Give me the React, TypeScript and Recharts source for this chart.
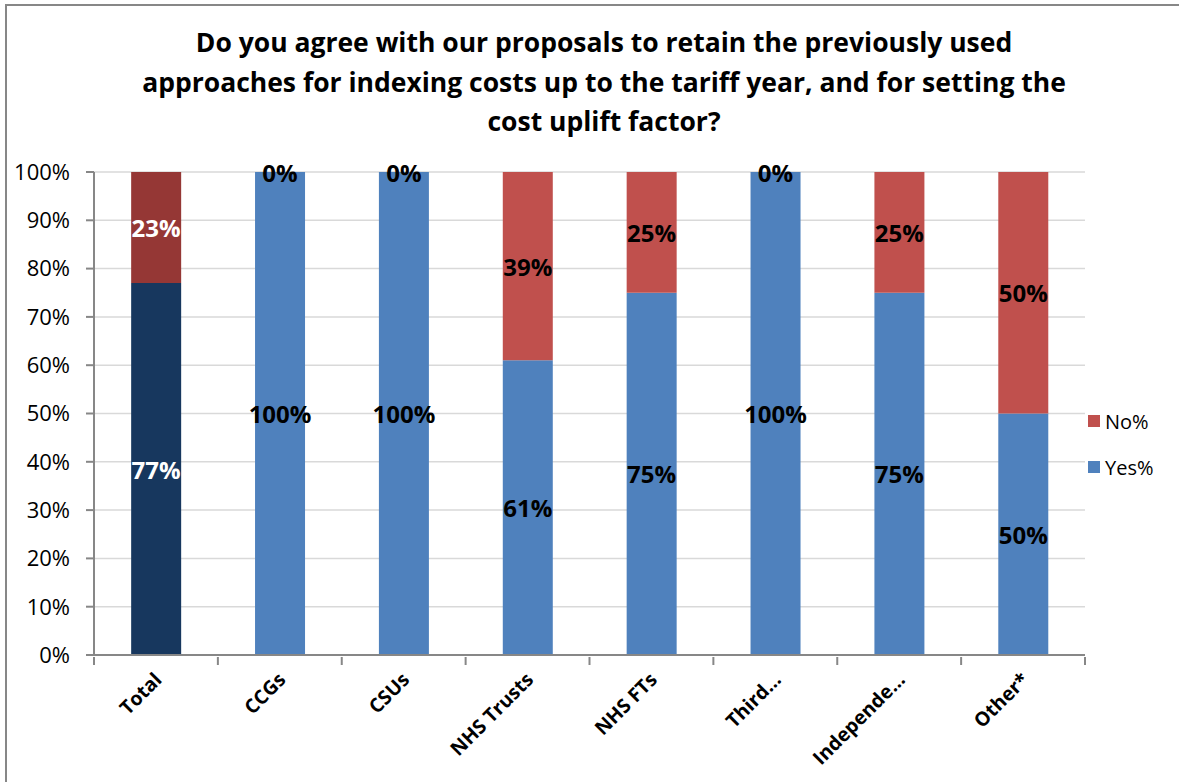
import React from "react";
import { BarChart, Bar, XAxis, YAxis, CartesianGrid, Cell, LabelList } from "recharts";

const categories = ["Total", "CCGs", "CSUs", "NHS Trusts", "NHS FTs", "Third…", "Independe…", "Other*"];
const yesValues = [77, 100, 100, 61, 75, 100, 75, 50];
const noValues = [23, 0, 0, 39, 25, 0, 25, 50];
const yTicks = [0, 10, 20, 30, 40, 50, 60, 70, 80, 90, 100];
const titleLines = [
  "Do you agree with our proposals to retain the previously used",
  "approaches for indexing costs up to the tariff year, and for setting the",
  "cost uplift factor?",
];
const legendItems = [
  { label: "No%", color: "#C0504D" },
  { label: "Yes%", color: "#4F81BD" },
];

const data = categories.map((c, i) => ({ name: c, yes: yesValues[i], no: noValues[i], idx: i }));

const FONT = "'Open Sans', 'Noto Sans', sans-serif";
const BLUE = "#4F81BD";
const RED = "#C0504D";
const NAVY = "#17375E";
const DARKRED = "#953735";
const AXIS = "#878787";

const labelText = (x: number, y: number, value: number, index: number, key?: string) => (
  <text
    key={key}
    x={x}
    y={y}
    textAnchor="middle"
    dominantBaseline="central"
    fontFamily={FONT}
    fontWeight={700}
    fontSize={24}
    fill={index === 0 ? "#FFFFFF" : "#000000"}
  >
    {value}%
  </text>
);

const yesLabel = (props: any) => {
  const { x, y, width, height, value, index } = props;
  const cx = Number(x) + Number(width) / 2;
  const cy = Number(y) + Number(height) / 2;
  const items = [labelText(cx, cy, value, index, "v")];
  if (noValues[index] === 0) {
    items.push(labelText(cx, Number(y), noValues[index], index, "z"));
  }
  return <g>{items}</g>;
};

const noLabel = (props: any) => {
  const { x, y, width, height, value, index } = props;
  if (!value) return null;
  return labelText(Number(x) + Number(width) / 2, Number(y) + Number(height) / 2, value, index);
};

const XTick = (props: any) => {
  const { x, y, payload, index } = props;
  const half = Number(payload?.offset) || 0;
  const ax = x + 7;
  const ay = y + 16;
  const top = y - 8;
  return (
    <g>
      {half > 0 && (
        <line x1={x - half} x2={x - half} y1={top} y2={top + 8} stroke={AXIS} strokeWidth={2} />
      )}
      {half > 0 && index === categories.length - 1 && (
        <line x1={x + half} x2={x + half} y1={top} y2={top + 8} stroke={AXIS} strokeWidth={2} />
      )}
      <text
        x={ax}
        y={ay}
        textAnchor="end"
        fontFamily={FONT}
        fontWeight={700}
        fontSize={19.5}
        fill="#000"
        transform={`rotate(-45, ${ax}, ${ay})`}
      >
        {payload.value}
      </text>
    </g>
  );
};

export default function App() {
  return (
    <div style={{ position: "absolute", left: 0, top: 0, width: 1179, height: 782, background: "#fff", overflow: "hidden" }}>
      <div
        style={{
          position: "absolute",
          left: 5,
          top: 4,
          width: 1300,
          height: 900,
          border: "2px solid #878787",
          boxSizing: "border-box",
        }}
      />
      <div
        style={{
          position: "absolute",
          left: 0,
          top: 23,
          width: 1208,
          textAlign: "center",
          fontFamily: FONT,
          fontWeight: 700,
          fontSize: 26.5,
          lineHeight: "39.5px",
          color: "#000",
        }}
      >
        {titleLines.map((l) => (
          <div key={l}>{l}</div>
        ))}
      </div>
      <div style={{ position: "absolute", left: 0, top: 0 }}>
        <BarChart
          width={1179}
          height={782}
          data={data}
          margin={{ top: 172, right: 94, bottom: 7, left: 0 }}
          barCategoryGap="30%"
        >
          <CartesianGrid vertical={false} stroke="#D9D9D9" strokeWidth={1.5} />
          <XAxis
            dataKey="name"
            interval={0}
            height={120}
            tick={<XTick />}
            tickSize={8}
            axisLine={{ stroke: AXIS, strokeWidth: 2 }}
            tickLine={false}
          />
          <YAxis
            domain={[0, 100]}
            ticks={yTicks}
            interval={0}
            width={94}
            tickFormatter={(v: number) => `${v}%`}
            tick={{ fontFamily: FONT, fontSize: 22, fill: "#000" }}
            axisLine={{ stroke: AXIS, strokeWidth: 2 }}
            tickLine={{ stroke: AXIS, strokeWidth: 2 }}
            tickSize={8}
            tickMargin={16}
          />
          <Bar dataKey="yes" name="Yes%" stackId="a" fill={BLUE} isAnimationActive={false}>
            {data.map((d) => (
              <Cell key={d.name} fill={d.idx === 0 ? NAVY : BLUE} />
            ))}
            <LabelList dataKey="yes" content={yesLabel} />
          </Bar>
          <Bar dataKey="no" name="No%" stackId="a" fill={RED} isAnimationActive={false}>
            {data.map((d) => (
              <Cell key={d.name} fill={d.idx === 0 ? DARKRED : RED} />
            ))}
            <LabelList dataKey="no" content={noLabel} />
          </Bar>
        </BarChart>
      </div>
      <div style={{ position: "absolute", left: 1088, top: 398, fontFamily: FONT, fontSize: 20, color: "#000" }}>
        {legendItems.map((it) => (
          <div key={it.label} style={{ display: "flex", alignItems: "center", height: 46 }}>
            <span style={{ display: "inline-block", width: 12, height: 12, background: it.color, marginRight: 5 }} />
            {it.label}
          </div>
        ))}
      </div>
    </div>
  );
}
